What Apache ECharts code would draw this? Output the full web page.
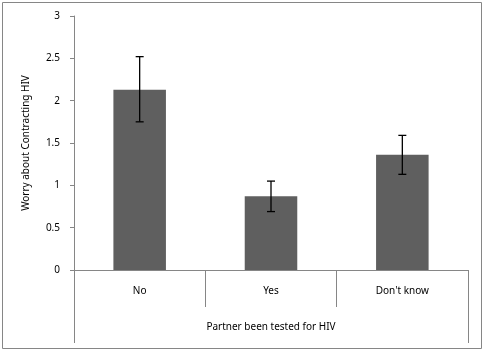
<!DOCTYPE html>
<html>
<head>
<meta charset="utf-8">
<script src="https://cdn.jsdelivr.net/npm/echarts@6/dist/echarts.min.js"></script>
<style>
  html, body { margin: 0; padding: 0; background: #fff; }
  #chart { width: 485px; height: 353px; }
</style>
</head>
<body>
<div id="chart"></div>
<script>
const categories = ['No', 'Yes', "Don't know"];
const means = [2.13, 0.87, 1.36];
const errLow = [1.75, 0.69, 1.13];
const errHigh = [2.52, 1.05, 1.59];
const yTicks = [0, 0.5, 1, 1.5, 2, 2.5, 3];

const axisGrey = '#868686';
const font = 'Noto Sans, sans-serif';

const chart = echarts.init(document.getElementById('chart'), null, { renderer: 'canvas' });

const option = {
  backgroundColor: '#fff',
  animation: false,
  graphic: [{
    type: 'rect',
    shape: { x: 2.5, y: 2.5, width: 479, height: 346 },
    style: { fill: 'none', stroke: axisGrey, lineWidth: 1 },
    silent: true
  }],
  grid: { left: 74, right: 17, top: 16, bottom: 83 },
  xAxis: [
    {
      type: 'category',
      data: categories,
      axisLine: { lineStyle: { color: axisGrey, width: 1 } },
      axisTick: { show: true, interval: 0, length: 37, lineStyle: { color: axisGrey } },
      axisLabel: { interval: 0, margin: 16, color: '#000', fontSize: 10, fontFamily: font }
    },
    {
      type: 'category',
      data: ['Partner been tested for HIV'],
      position: 'bottom',
      axisLine: { show: false },
      axisTick: { show: true, length: 73, lineStyle: { color: axisGrey } },
      axisLabel: { margin: 52, color: '#000', fontSize: 10, fontFamily: font }
    }
  ],
  yAxis: {
    type: 'value',
    min: yTicks[0],
    max: yTicks[yTicks.length - 1],
    interval: 0.5,
    name: 'Worry about Contracting HIV',
    nameLocation: 'middle',
    nameGap: 43,
    nameMoveOverlap: false,
    nameTextStyle: { color: '#000', fontSize: 10, fontFamily: font },
    axisLine: { show: true, lineStyle: { color: axisGrey } },
    axisTick: { show: true, length: 4, lineStyle: { color: axisGrey } },
    axisLabel: { margin: 14, color: '#000', fontSize: 10, fontFamily: font },
    splitLine: { show: false }
  },
  series: [
    {
      type: 'bar',
      data: means,
      barWidth: '40%',
      itemStyle: { color: '#5f5f5f' }
    },
    {
      type: 'custom',
      data: categories.map((c, i) => [i, errLow[i], errHigh[i]]),
      renderItem: (params, api) => {
        const lo = api.coord([api.value(0), api.value(1)]);
        const hi = api.coord([api.value(0), api.value(2)]);
        const cap = 4;
        const style = { stroke: '#000', lineWidth: 1.3 };
        return {
          type: 'group',
          children: [
            { type: 'line', shape: { x1: hi[0], y1: hi[1], x2: lo[0], y2: lo[1] }, style },
            { type: 'line', shape: { x1: hi[0] - cap, y1: hi[1], x2: hi[0] + cap, y2: hi[1] }, style },
            { type: 'line', shape: { x1: lo[0] - cap, y1: lo[1], x2: lo[0] + cap, y2: lo[1] }, style }
          ]
        };
      },
      z: 5
    }
  ]
};

chart.setOption(option);
</script>
</body>
</html>
